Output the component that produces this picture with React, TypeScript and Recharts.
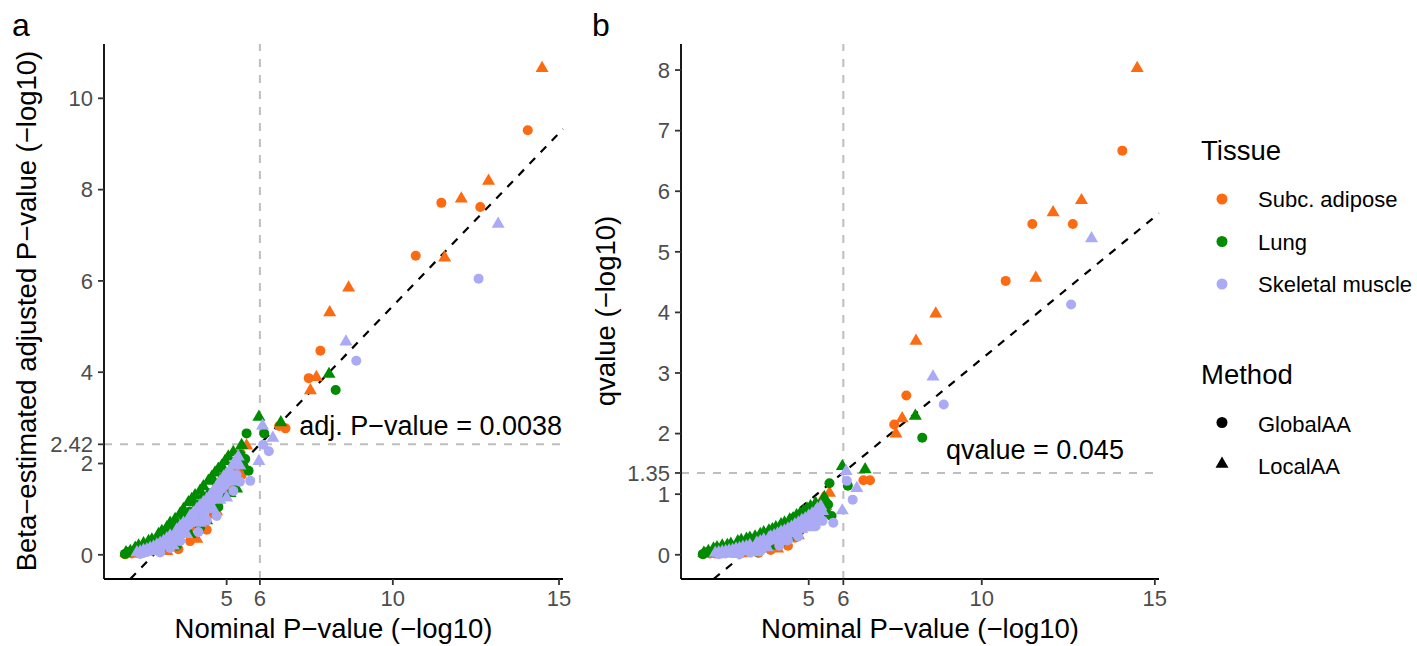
import React from "react";
import { ScatterChart, Scatter, XAxis, YAxis, ReferenceLine } from "recharts";

const FONT = "'Liberation Sans', Arial, Helvetica, sans-serif";

// legend entries
const tissues = ["Subc. adipose", "Lung", "Skeletal muscle"];
const tissueColors = ["#FC6A12", "#008B00", "#AAAAF5"];
const methods = ["GlobalAA", "LocalAA"];

// each point: [nominal P (-log10), beta-adjusted P (-log10), qvalue (-log10)]
const adiposeGlobal = [
  [1.95, 0.01, 0.01], [2.15, 0.03, 0.02], [2.3, 0.04, 0.02], [2.45, 0.06, 0.03],
  [2.7, 0.1, 0.04], [2.9, 0.14, 0.05], [3.0, 0.18, 0.06], [3.2, 0.22, 0.07],
  [3.35, 0.3, 0.1], [3.5, 0.36, 0.11], [3.55, 0.12, 0.03], [3.65, 0.45, 0.14],
  [3.8, 0.5, 0.16], [3.9, 0.3, 0.08], [3.95, 0.62, 0.2], [4.1, 0.72, 0.24],
  [4.25, 0.85, 0.28], [4.4, 0.55, 0.15], [4.55, 1.05, 0.35], [4.6, 0.9, 0.28],
  [4.7, 1.15, 0.4], [4.85, 1.3, 0.45], [5.0, 1.42, 0.5], [5.15, 1.55, 0.55],
  [5.3, 1.62, 0.6], [5.45, 1.75, 0.65], [6.58, 2.82, 1.23], [6.77, 2.77, 1.23],
  [7.47, 3.87, 2.15], [7.82, 4.47, 2.63], [10.69, 6.55, 4.52], [11.46, 7.71, 5.46],
  [12.63, 7.62, 5.46], [14.06, 9.3, 6.67],
];
const adiposeLocal = [
  [1.98, 0.03, 0.02], [2.2, 0.05, 0.03], [2.4, 0.12, 0.07], [2.6, 0.15, 0.08],
  [2.8, 0.18, 0.09], [2.95, 0.25, 0.12], [3.1, 0.35, 0.15], [3.2, 0.08, 0.02],
  [3.4, 0.5, 0.18], [3.55, 0.55, 0.2], [3.75, 0.65, 0.22], [3.9, 0.8, 0.28],
  [4.0, 0.95, 0.33], [4.1, 0.35, 0.1], [4.2, 1.1, 0.38], [4.35, 1.0, 0.36],
  [4.5, 1.15, 0.4], [4.6, 1.3, 0.45], [4.7, 0.95, 0.32], [4.8, 1.45, 0.52],
  [4.9, 1.75, 0.66], [5.0, 1.6, 0.6], [5.15, 1.8, 0.68], [5.25, 1.9, 0.72],
  [5.4, 2.3, 0.92], [5.5, 2.0, 0.8], [5.6, 2.39, 1.02], [7.52, 3.6, 2.0],
  [7.7, 3.89, 2.25], [8.1, 5.31, 3.53], [8.67, 5.85, 3.98], [11.56, 6.51, 4.57],
  [12.06, 7.8, 5.65], [12.88, 8.19, 5.85], [14.49, 10.66, 8.03],
];
const lungGlobal = [
  [1.94, 0.02, 0.01], [2.05, 0.06, 0.04], [2.2, 0.08, 0.05], [2.35, 0.1, 0.06],
  [2.5, 0.15, 0.08], [2.6, 0.2, 0.1], [2.75, 0.25, 0.12], [2.9, 0.3, 0.14],
  [3.1, 0.42, 0.18], [3.3, 0.55, 0.22], [3.45, 0.65, 0.25], [3.5, 0.2, 0.05],
  [3.7, 0.85, 0.3], [3.9, 0.95, 0.34], [4.1, 1.1, 0.4], [4.2, 0.6, 0.2],
  [4.3, 1.25, 0.46], [4.5, 1.35, 0.5], [4.7, 1.55, 0.58], [4.75, 1.05, 0.4],
  [4.9, 1.7, 0.65], [4.95, 1.3, 0.5], [5.05, 1.8, 0.7], [5.2, 1.95, 0.78],
  [5.3, 1.65, 0.62], [5.41, 2.2, 0.8], [5.5, 1.95, 0.7], [5.56, 2.1, 0.83],
  [5.66, 1.84, 0.64], [5.6, 2.66, 1.18], [6.13, 2.66, 1.14], [8.28, 3.61, 1.93],
];
const lungLocal = [
  [1.97, 0.05, 0.03], [2.1, 0.08, 0.06], [2.25, 0.15, 0.1], [2.35, 0.2, 0.12],
  [2.5, 0.25, 0.15], [2.65, 0.3, 0.16], [2.75, 0.33, 0.18], [2.95, 0.45, 0.22],
  [3.05, 0.52, 0.24], [3.2, 0.6, 0.26], [3.3, 0.7, 0.28], [3.45, 0.78, 0.3],
  [3.6, 0.9, 0.34], [3.7, 1.0, 0.37], [3.85, 1.15, 0.4], [3.9, 0.45, 0.15],
  [3.95, 1.22, 0.42], [4.05, 1.3, 0.45], [4.2, 1.4, 0.5], [4.3, 1.5, 0.53],
  [4.4, 0.75, 0.3], [4.45, 1.62, 0.58], [4.55, 1.7, 0.6], [4.6, 1.1, 0.42],
  [4.65, 1.8, 0.65], [4.75, 1.88, 0.68], [4.85, 1.95, 0.72], [4.95, 2.05, 0.76],
  [5.05, 2.15, 0.8], [5.1, 1.35, 0.55], [5.2, 2.25, 0.85], [5.3, 1.45, 0.6],
  [5.45, 2.4, 0.95], [5.97, 3.02, 1.46], [6.63, 2.9, 1.41], [8.08, 3.96, 2.29],
];
const muscleGlobal = [
  [2.4, 0.02, 0.01], [2.5, 0.04, 0.02], [2.6, 0.06, 0.02], [2.75, 0.09, 0.03],
  [2.85, 0.12, 0.04], [2.95, 0.15, 0.05], [3.0, 0.05, 0.01], [3.05, 0.2, 0.07],
  [3.15, 0.24, 0.08], [3.25, 0.28, 0.1], [3.3, 0.15, 0.04], [3.35, 0.33, 0.11],
  [3.45, 0.38, 0.13], [3.55, 0.45, 0.15], [3.6, 0.3, 0.06], [3.65, 0.52, 0.17],
  [3.75, 0.58, 0.19], [3.85, 0.65, 0.22], [3.95, 0.72, 0.25], [4.05, 0.8, 0.28],
  [4.15, 0.5, 0.15], [4.25, 0.95, 0.33], [4.35, 1.02, 0.35], [4.4, 0.75, 0.24],
  [4.45, 1.1, 0.38], [4.55, 1.18, 0.41], [4.65, 1.25, 0.44], [4.7, 0.85, 0.3],
  [4.75, 1.35, 0.47], [4.85, 1.45, 0.5], [4.95, 1.52, 0.53], [5.05, 1.6, 0.57],
  [5.15, 1.68, 0.6], [5.2, 1.4, 0.47], [5.3, 1.75, 0.64], [5.4, 1.6, 0.56],
  [5.71, 1.62, 0.53], [6.1, 2.41, 1.22], [6.27, 2.27, 0.91], [8.9, 4.25, 2.48],
  [12.58, 6.05, 4.13],
];
const muscleLocal = [
  [2.3, 0.05, 0.03], [2.4, 0.07, 0.04], [2.5, 0.1, 0.05], [2.6, 0.12, 0.06],
  [2.7, 0.15, 0.07], [2.8, 0.18, 0.08], [2.9, 0.22, 0.1], [2.95, 0.08, 0.01],
  [3.0, 0.26, 0.11], [3.1, 0.3, 0.13], [3.2, 0.36, 0.14], [3.3, 0.42, 0.16],
  [3.4, 0.2, 0.04], [3.5, 0.55, 0.2], [3.6, 0.62, 0.22], [3.6, 0.35, 0.09],
  [3.7, 0.7, 0.25], [3.8, 0.45, 0.12], [3.85, 0.78, 0.28], [3.9, 0.85, 0.3],
  [4.0, 0.92, 0.32], [4.1, 1.0, 0.35], [4.2, 0.7, 0.22], [4.2, 1.08, 0.38],
  [4.3, 1.15, 0.4], [4.35, 0.85, 0.28], [4.4, 1.22, 0.43], [4.5, 1.3, 0.46],
  [4.6, 1.0, 0.35], [4.6, 1.4, 0.5], [4.7, 1.5, 0.53], [4.8, 1.6, 0.57],
  [4.8, 1.2, 0.42], [4.9, 1.7, 0.6], [5.0, 1.25, 0.45], [5.0, 1.78, 0.64],
  [5.1, 1.85, 0.68], [5.2, 1.95, 0.72], [5.25, 2.05, 0.76], [5.3, 1.6, 0.55],
  [5.35, 2.15, 0.8], [5.4, 1.95, 0.72], [5.97, 2.05, 0.73], [6.08, 2.83, 1.38],
  [6.39, 2.56, 1.1], [8.59, 4.67, 2.94], [13.17, 7.25, 5.22],
];

// thresholds and fitted diagonal lines
const nominalCut = 6;
const adjCut = 2.42;
const qCut = 1.35;
const fitA = { slope: 0.757, intercept: -2.12 };
const fitB = { slope: 0.469, intercept: -1.456 };

const xTicks = [5, 6, 10, 15];
const yTicksA = [0, 2, 2.42, 4, 6, 8, 10];
const yTicksB = [0, 1, 1.35, 2, 3, 4, 5, 6, 7, 8];
const xDomain = [1.31, 15.12];
const yDomainA = [-0.53, 11.19];
const yDomainB = [-0.4, 8.43];

const series = [
  { data: adiposeGlobal, color: tissueColors[0], tri: false },
  { data: adiposeLocal, color: tissueColors[0], tri: true },
  { data: lungGlobal, color: tissueColors[1], tri: false },
  { data: lungLocal, color: tissueColors[1], tri: true },
  { data: muscleGlobal, color: tissueColors[2], tri: false },
  { data: muscleLocal, color: tissueColors[2], tri: true },
];

const dotShape = (color: string) => (p: any) => (
  <circle cx={p.cx} cy={p.cy} r={5} fill={color} />
);
const triShape = (color: string) => (p: any) => (
  <polygon
    points={`${p.cx},${p.cy - 7.4} ${p.cx - 6.5},${p.cy + 3.8} ${p.cx + 6.5},${p.cy + 3.8}`}
    fill={color}
  />
);

const tickStyle = { fontSize: 22, fill: "#4D4D4D", fontFamily: FONT };

function fitSegment(fit: { slope: number; intercept: number }, yMin: number) {
  const x0 = (yMin - fit.intercept) / fit.slope;
  const x1 = xDomain[1];
  return [
    { x: x0, y: yMin },
    { x: x1, y: fit.slope * x1 + fit.intercept },
  ];
}

function Panel({ col, yDomain, yTicks, hCut, fit, margin, width }: any) {
  return (
    <ScatterChart width={width} height={646} margin={margin}>
      <XAxis
        type="number"
        dataKey="x"
        domain={xDomain}
        ticks={xTicks}
        allowDataOverflow
        interval={0}
        height={40}
        tickSize={6}
        tickMargin={5}
        tick={tickStyle}
        axisLine={{ stroke: "#000", strokeWidth: 1.8 }}
        tickLine={{ stroke: "#333", strokeWidth: 1.8 }}
      />
      <YAxis
        type="number"
        dataKey="y"
        domain={yDomain}
        ticks={yTicks}
        allowDataOverflow
        interval={0}
        width={60}
        tickSize={6}
        tickMargin={5}
        tick={tickStyle}
        axisLine={{ stroke: "#000", strokeWidth: 1.8 }}
        tickLine={{ stroke: "#333", strokeWidth: 1.8 }}
      />
      <ReferenceLine x={nominalCut} stroke="#BEBEBE" strokeWidth={2} strokeDasharray="8 8" />
      <ReferenceLine y={hCut} stroke="#BEBEBE" strokeWidth={2} strokeDasharray="8 8" />
      {series.map((s, i) => (
        <Scatter
          key={i}
          data={s.data.map((p) => ({ x: p[0], y: p[col] }))}
          shape={s.tri ? triShape(s.color) : dotShape(s.color)}
          isAnimationActive={false}
        />
      ))}
      <ReferenceLine
        segment={fitSegment(fit, yDomain[0])}
        stroke="#000"
        strokeWidth={2.2}
        strokeDasharray="8 8"
      />
    </ScatterChart>
  );
}

export default function App() {
  return (
    <div
      style={{
        position: "absolute",
        left: 0,
        top: 0,
        width: 1417,
        height: 646,
        background: "#fff",
        fontFamily: FONT,
      }}
    >
      <div style={{ position: "absolute", left: 0, top: 0 }}>
        <Panel
          col={1}
          yDomain={yDomainA}
          yTicks={yTicksA}
          hCut={adjCut}
          fit={fitA}
          width={580}
          margin={{ top: 44, right: 17, bottom: 27, left: 44 }}
        />
      </div>
      <div style={{ position: "absolute", left: 580, top: 0 }}>
        <Panel
          col={2}
          yDomain={yDomainB}
          yTicks={yTicksB}
          hCut={qCut}
          fit={fitB}
          width={600}
          margin={{ top: 44, right: 21, bottom: 27, left: 41 }}
        />
      </div>
      <svg
        width={1417}
        height={646}
        style={{ position: "absolute", left: 0, top: 0, pointerEvents: "none" }}
        fontFamily={FONT}
      >
        <text x={12} y={36} fontSize={32}>a</text>
        <text x={592} y={36} fontSize={32}>b</text>
        <text x={333.5} y={638} fontSize={27.5} textAnchor="middle">Nominal P−value (−log10)</text>
        <text x={920} y={638} fontSize={27.5} textAnchor="middle">Nominal P−value (−log10)</text>
        <text x={36} y={311} fontSize={27.5} textAnchor="middle" transform="rotate(-90 36 311)">
          Beta−estimated adjusted P−value (−log10)
        </text>
        <text x={615} y={311} fontSize={27.5} textAnchor="middle" transform="rotate(-90 615 311)">
          qvalue (−log10)
        </text>
        <text x={562} y={435} fontSize={27} textAnchor="end">adj. P−value = 0.0038</text>
        <text x={946} y={459} fontSize={27}>qvalue = 0.045</text>

        <text x={1201} y={160} fontSize={27.5}>Tissue</text>
        {tissues.map((t, i) => (
          <g key={t}>
            <circle cx={1222} cy={199 + i * 42.5} r={5.5} fill={tissueColors[i]} />
            <text x={1258} y={207 + i * 42.7} fontSize={22}>{t}</text>
          </g>
        ))}
        <text x={1201} y={383.5} fontSize={27.5}>Method</text>
        <circle cx={1222} cy={422.5} r={5.5} fill="#000" />
        <text x={1258} y={431.5} fontSize={22}>{methods[0]}</text>
        <polygon points="1222,456.5 1215.5,467.7 1228.5,467.7" fill="#000" />
        <text x={1258} y={473.5} fontSize={22}>{methods[1]}</text>
      </svg>
    </div>
  );
}
